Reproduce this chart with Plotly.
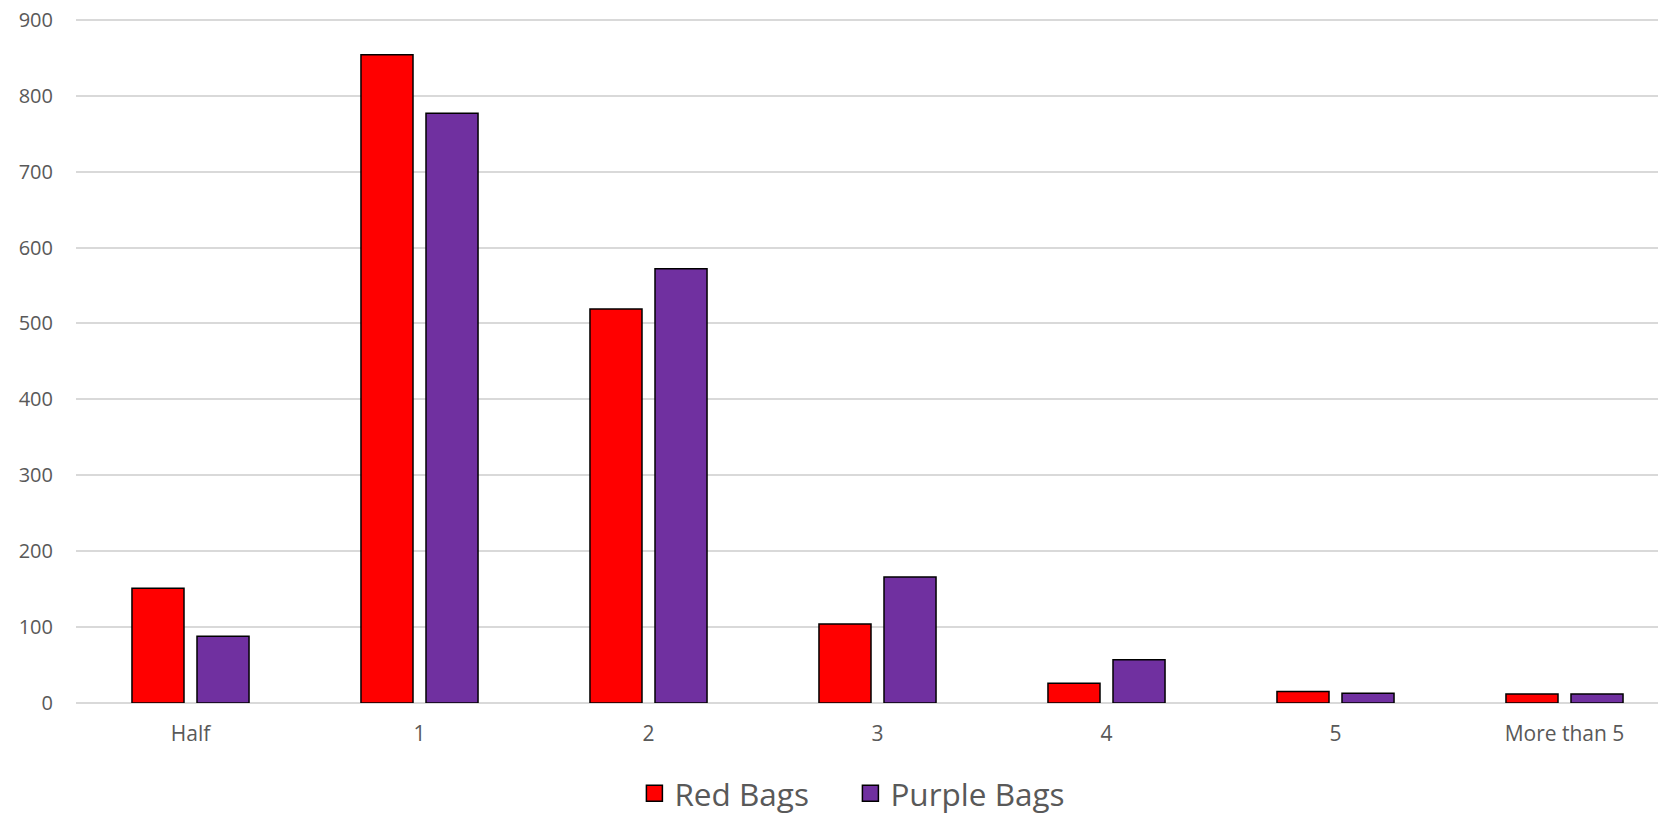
import plotly.graph_objects as go

categories = ["Half", "1", "2", "3", "4", "5", "More than 5"]
red_bags = [151, 854, 519, 104, 26, 15, 12]
purple_bags = [88, 777, 572, 166, 57, 13, 12]
y_ticks = [0, 100, 200, 300, 400, 500, 600, 700, 800, 900]
series_names = ["Red Bags", "Purple Bags"]
series_colors = ["#FF0000", "#7030A0"]

Y_TOP = 905  # a little headroom so the 900 gridline / label are kept
W, H = 1658, 815
px_per_unit = (702.7 - 19.3) / 900
T = 19.3 - (Y_TOP - 900) * px_per_unit
L, R, B = 76, 0, 112.3
plot_h = H - T - B
plot_w = W - L - R

fig = go.Figure()
for name, vals, col in zip(series_names, [red_bags, purple_bags], series_colors):
    fig.add_trace(go.Bar(x=categories, y=vals, name=name, showlegend=False,
                         marker=dict(color=col, line=dict(color="#000000", width=1.5))))
# legend entries with larger square swatches
for name, col in zip(series_names, series_colors):
    fig.add_trace(go.Scatter(x=[None], y=[None], mode="markers", name=name,
                             marker=dict(symbol="square", size=16, color=col,
                                         line=dict(color="#000000", width=1.5))))

cat_w = 229.0
x_max = -0.5 + plot_w / cat_w

legend_left = 634.4
legend_mid = 793

fig.update_layout(
    width=W, height=H,
    margin=dict(l=L, r=R, t=T, b=B, pad=0, autoexpand=False),
    paper_bgcolor="white", plot_bgcolor="white",
    barmode="group", bargap=0.432, bargroupgap=0.2,
    font=dict(family="Open Sans", color="#595959", size=20),
    xaxis=dict(type="category", range=[-0.5, x_max], showgrid=False, zeroline=False,
               showline=False, ticks="outside", ticklen=12, tickcolor="rgba(0,0,0,0)",
               tickfont=dict(size=21, color="#595959"), automargin=False,
               ticklabeloverflow="allow"),
    yaxis=dict(range=[0, Y_TOP], tickvals=y_ticks, showgrid=True, gridcolor="#D9D9D9",
               gridwidth=1.5, zeroline=True, zerolinecolor="#D9D9D9", zerolinewidth=1.5,
               showline=False, ticks="outside", ticklen=18, tickcolor="rgba(0,0,0,0)",
               tickfont=dict(size=20, color="#595959"), automargin=False,
               ticklabeloverflow="allow"),
    legend=dict(orientation="h", x=(legend_left - L) / plot_w, xanchor="left",
                y=-(legend_mid - (H - B)) / plot_h, yanchor="middle",
                font=dict(size=31.5, color="#595959"), itemwidth=30,
                entrywidth=171, entrywidthmode="pixels",
                bgcolor="rgba(0,0,0,0)"),
)

# remove the page's default 8px body margin so the figure fills the window exactly
fig.write_html("out.html",
               config={"displayModeBar": False},
               post_script="document.body.style.margin='0';document.body.style.overflow='hidden';")
